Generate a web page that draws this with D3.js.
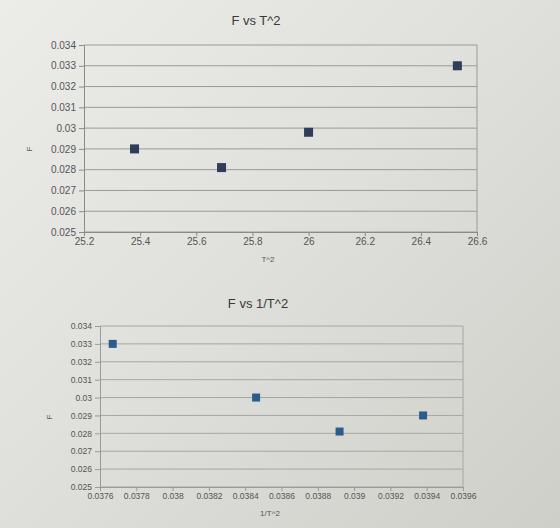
<!DOCTYPE html>
<html>
<head>
<meta charset="utf-8">
<script src="https://cdn.jsdelivr.net/npm/d3@7"></script>
<style>
  html, body { margin: 0; padding: 0; }
  body { width: 560px; height: 528px; overflow: hidden; }
  text { font-family: "Liberation Sans", Arial, sans-serif; }
</style>
</head>
<body>
<svg id="chart" width="560" height="528"></svg>
<script>
// ---- Data ----
const tSquared = [25.38, 25.69, 26.0, 26.53];
const fTop = [0.029, 0.0281, 0.0298, 0.033];
const invTSquared = [0.03767, 0.03846, 0.03892, 0.03938];
const fBottom = [0.033, 0.0300, 0.0281, 0.029];
const fTicks = [0.025, 0.026, 0.027, 0.028, 0.029, 0.03, 0.031, 0.032, 0.033, 0.034];
const tSqTicks = [25.2, 25.4, 25.6, 25.8, 26, 26.2, 26.4, 26.6];
const invTSqTicks = [0.0376, 0.0378, 0.038, 0.0382, 0.0384, 0.0386, 0.0388, 0.039, 0.0392, 0.0394, 0.0396];

const svg = d3.select("#chart");
const defs = svg.append("defs");
const grad = defs.append("linearGradient").attr("id", "bg")
  .attr("x1", "0").attr("y1", "0").attr("x2", "1").attr("y2", "1");
grad.append("stop").attr("offset", "0%").attr("stop-color", "#ecece9");
grad.append("stop").attr("offset", "45%").attr("stop-color", "#e0e0dc");
grad.append("stop").attr("offset", "100%").attr("stop-color", "#cfcfca");
svg.append("rect").attr("width", 560).attr("height", 528).attr("fill", "url(#bg)");

const fmt = d3.format("~g");

function drawChart(cfg) {
  const g = svg.append("g");
  const x = d3.scaleLinear().domain(cfg.xDomain).range([cfg.left, cfg.right]);
  const y = d3.scaleLinear().domain(cfg.yDomain).range([cfg.bottom, cfg.top]);

  // gridlines
  g.append("g").selectAll("line").data(cfg.yTicks).join("line")
    .attr("x1", cfg.left).attr("x2", cfg.right)
    .attr("y1", d => y(d)).attr("y2", d => y(d))
    .attr("stroke", cfg.gridColor).attr("stroke-width", 1);
  // right border
  g.append("line").attr("x1", cfg.right).attr("x2", cfg.right)
    .attr("y1", cfg.top).attr("y2", cfg.bottom)
    .attr("stroke", cfg.gridColor);

  const yAxis = g.append("g").attr("transform", `translate(${cfg.left},0)`)
    .call(d3.axisLeft(y).tickValues(cfg.yTicks).tickFormat(fmt).tickSize(5).tickSizeOuter(0).tickPadding(3));
  const xAxis = g.append("g").attr("transform", `translate(0,${cfg.bottom})`)
    .call(d3.axisBottom(x).tickValues(cfg.xTicks).tickFormat(fmt).tickSize(4).tickSizeOuter(0).tickPadding(2));
  [yAxis, xAxis].forEach(a => {
    a.selectAll("path, line").attr("stroke", cfg.axisColor);
    a.selectAll("text").attr("fill", "#555").attr("font-size", cfg.fontSize);
  });

  // markers
  const s = cfg.marker;
  g.append("g").selectAll("rect").data(cfg.xs).join("rect")
    .attr("x", (d) => x(d) - s / 2)
    .attr("y", (d, i) => y(cfg.ys[i]) - s / 2)
    .attr("width", s).attr("height", s)
    .attr("fill", cfg.markerColor);

  // titles
  g.append("text").attr("x", cfg.titleX).attr("y", cfg.titleY)
    .attr("text-anchor", "middle").attr("font-size", 13).attr("fill", "#3a3a3a").text(cfg.title);
  g.append("text").attr("x", cfg.xLabelX).attr("y", cfg.xLabelY)
    .attr("text-anchor", "middle").attr("font-size", 8).attr("fill", "#555").text(cfg.xLabel);
  g.append("text").attr("transform", `translate(${cfg.yLabelX},${cfg.yLabelY}) rotate(-90)`)
    .attr("text-anchor", "middle").attr("font-size", 8).attr("fill", "#555").text("F");
}

drawChart({
  xs: tSquared, ys: fTop,
  xDomain: [25.2, 26.6], yDomain: [0.025, 0.034],
  xTicks: tSqTicks, yTicks: fTicks,
  left: 84, right: 477, top: 45, bottom: 232,
  gridColor: "#9a9a98", axisColor: "#8a8a88",
  fontSize: 10, marker: 9, markerColor: "#2d3d5a",
  title: "F vs T^2", titleX: 256, titleY: 25,
  xLabel: "T^2", xLabelX: 268, xLabelY: 262,
  yLabelX: 32, yLabelY: 149
});

drawChart({
  xs: invTSquared, ys: fBottom,
  xDomain: [0.0376, 0.0396], yDomain: [0.025, 0.034],
  xTicks: invTSqTicks, yTicks: fTicks,
  left: 100, right: 463, top: 326, bottom: 487,
  gridColor: "#a6a6a4", axisColor: "#9a9a98",
  fontSize: 8.5, marker: 8, markerColor: "#2e5b8e",
  title: "F vs 1/T^2", titleX: 258, titleY: 308,
  xLabelX: 270, xLabelY: 516, xLabel: "1/T^2",
  yLabelX: 52, yLabelY: 417
});
</script>
</body>
</html>
